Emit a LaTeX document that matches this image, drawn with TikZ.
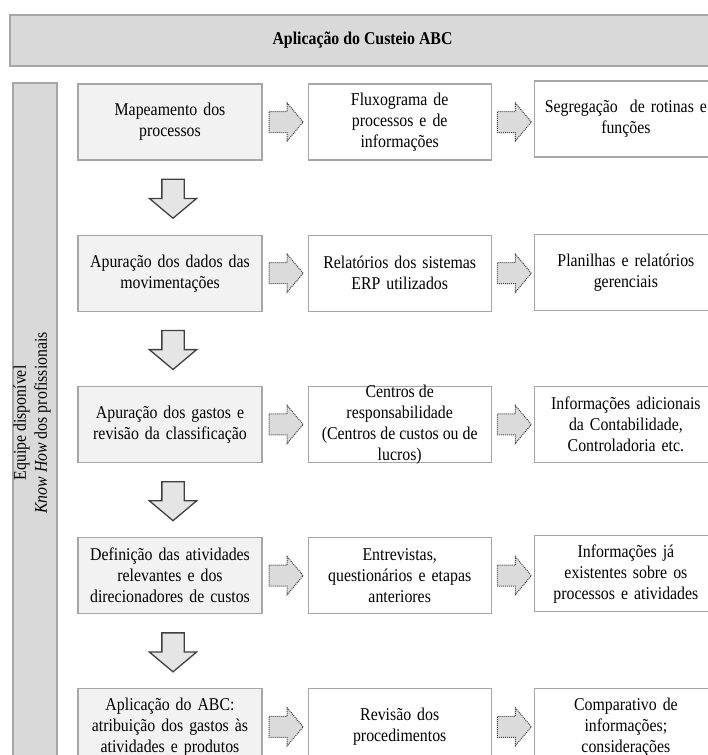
\documentclass[tikz,border=0pt]{standalone}
\usepackage{fontspec}
\setmainfont[FakeStretch=0.88]{Liberation Serif}
\usetikzlibrary{arrows.meta, positioning, shapes.arrows}

\begin{document}
\begin{tikzpicture}[x=1pt, y=-1pt, >=Stealth, node distance=74pt and 45pt,
    font=\fontsize{18}{21}\selectfont,
    hdrbox/.style={draw=black!35, line width=1.2pt, fill=black!15, minimum width=705pt, minimum height=51pt},
    sidebar/.style={draw=black!35, line width=1.2pt, fill=black!15, minimum width=44pt, minimum height=820pt},
    stepA/.style={draw=black!35, line width=1.2pt, fill=black!5, minimum width=184pt, minimum height=76pt,
        text width=176pt, align=center, inner sep=0pt},
    infobox/.style={stepA, fill=white, minimum width=183pt},
    downarrow/.style={single arrow, shape border rotate=270, draw=black!75, line width=1.3pt, fill=black!10,
        minimum height=39pt, inner sep=10.5pt, single arrow head extend=12.5pt, single arrow tip angle=100},
    rarrow/.style={single arrow, draw=black!75, densely dotted, line width=1pt, fill=black!14,
        minimum height=34pt, inner sep=10pt, single arrow head extend=8.5pt, single arrow tip angle=100}]
    \useasboundingbox (0,0) rectangle (707,755);

    \node (hdr) [hdrbox] at (362.5,40.5) {\textbf{Aplicação do Custeio ABC}};
    \node (side) [sidebar] at (35,493) {};
    \node (sidetxt) [rotate=90, align=center] at (32,423) {Equipe disponível\\\textit{Know How} dos profissionais};

    % main steps
    \node (a1) [stepA] at (170,122) {Mapeamento dos\\processos};
    \node (a2) [stepA, below=of a1] {Apuração dos dados das\\movimentações};
    \node (a3) [stepA, below=of a2] {Apuração dos gastos e\\revisão da classificação};
    \node (a4) [stepA, below=of a3] {Definição das atividades\\relevantes e dos\\direcionadores de custos};
    \node (a5) [stepA, below=of a4] {Aplicação do ABC:\\atribuição dos gastos às\\atividades e produtos};

    % sources
    \node (b1) [infobox, right=of a1] {Fluxograma de\\processos e de\\informações};
    \node (b2) [infobox, right=of a2] {Relatórios dos sistemas\\ERP utilizados};
    \node (b3) [infobox, right=of a3] {};
    \node (b3txt) [align=center, inner sep=0pt] at (b3) {Centros de\\responsabilidade\\(Centros de custos ou de\\lucros)};
    \node (b4) [infobox, right=of a4] {Entrevistas,\\questionários e etapas\\anteriores};
    \node (b5) [infobox, right=of a5] {Revisão dos\\procedimentos};

    % results
    \node (c1) [infobox, right=42pt of b1, yshift=3pt] {Segregação \ de rotinas e\\funções};
    \node (c2) [infobox, right=42pt of b2, yshift=1pt] {Planilhas e relatórios\\gerenciais};
    \node (c3) [infobox, right=42pt of b3] {Informações adicionais\\da Contabilidade,\\Controladoria etc.};
    \node (c4) [infobox, right=42pt of b4, yshift=2pt] {Informações já\\existentes sobre os\\processos e atividades};
    \node (c5) [infobox, right=42pt of b5] {Comparativo de\\informações;\\considerações};

    % block arrows
    \foreach \i/\j in {1/2, 2/3, 3/4, 4/5}
        \node (d\i) [downarrow, below=18pt of a\i, xshift=3pt] {};
    \foreach \i in {1,...,5} {
        \node (ra\i) [rarrow, right=6pt of a\i] {};
        \node (rb\i) [rarrow, right=5pt of b\i] {};
    }
\end{tikzpicture}
\end{document}
